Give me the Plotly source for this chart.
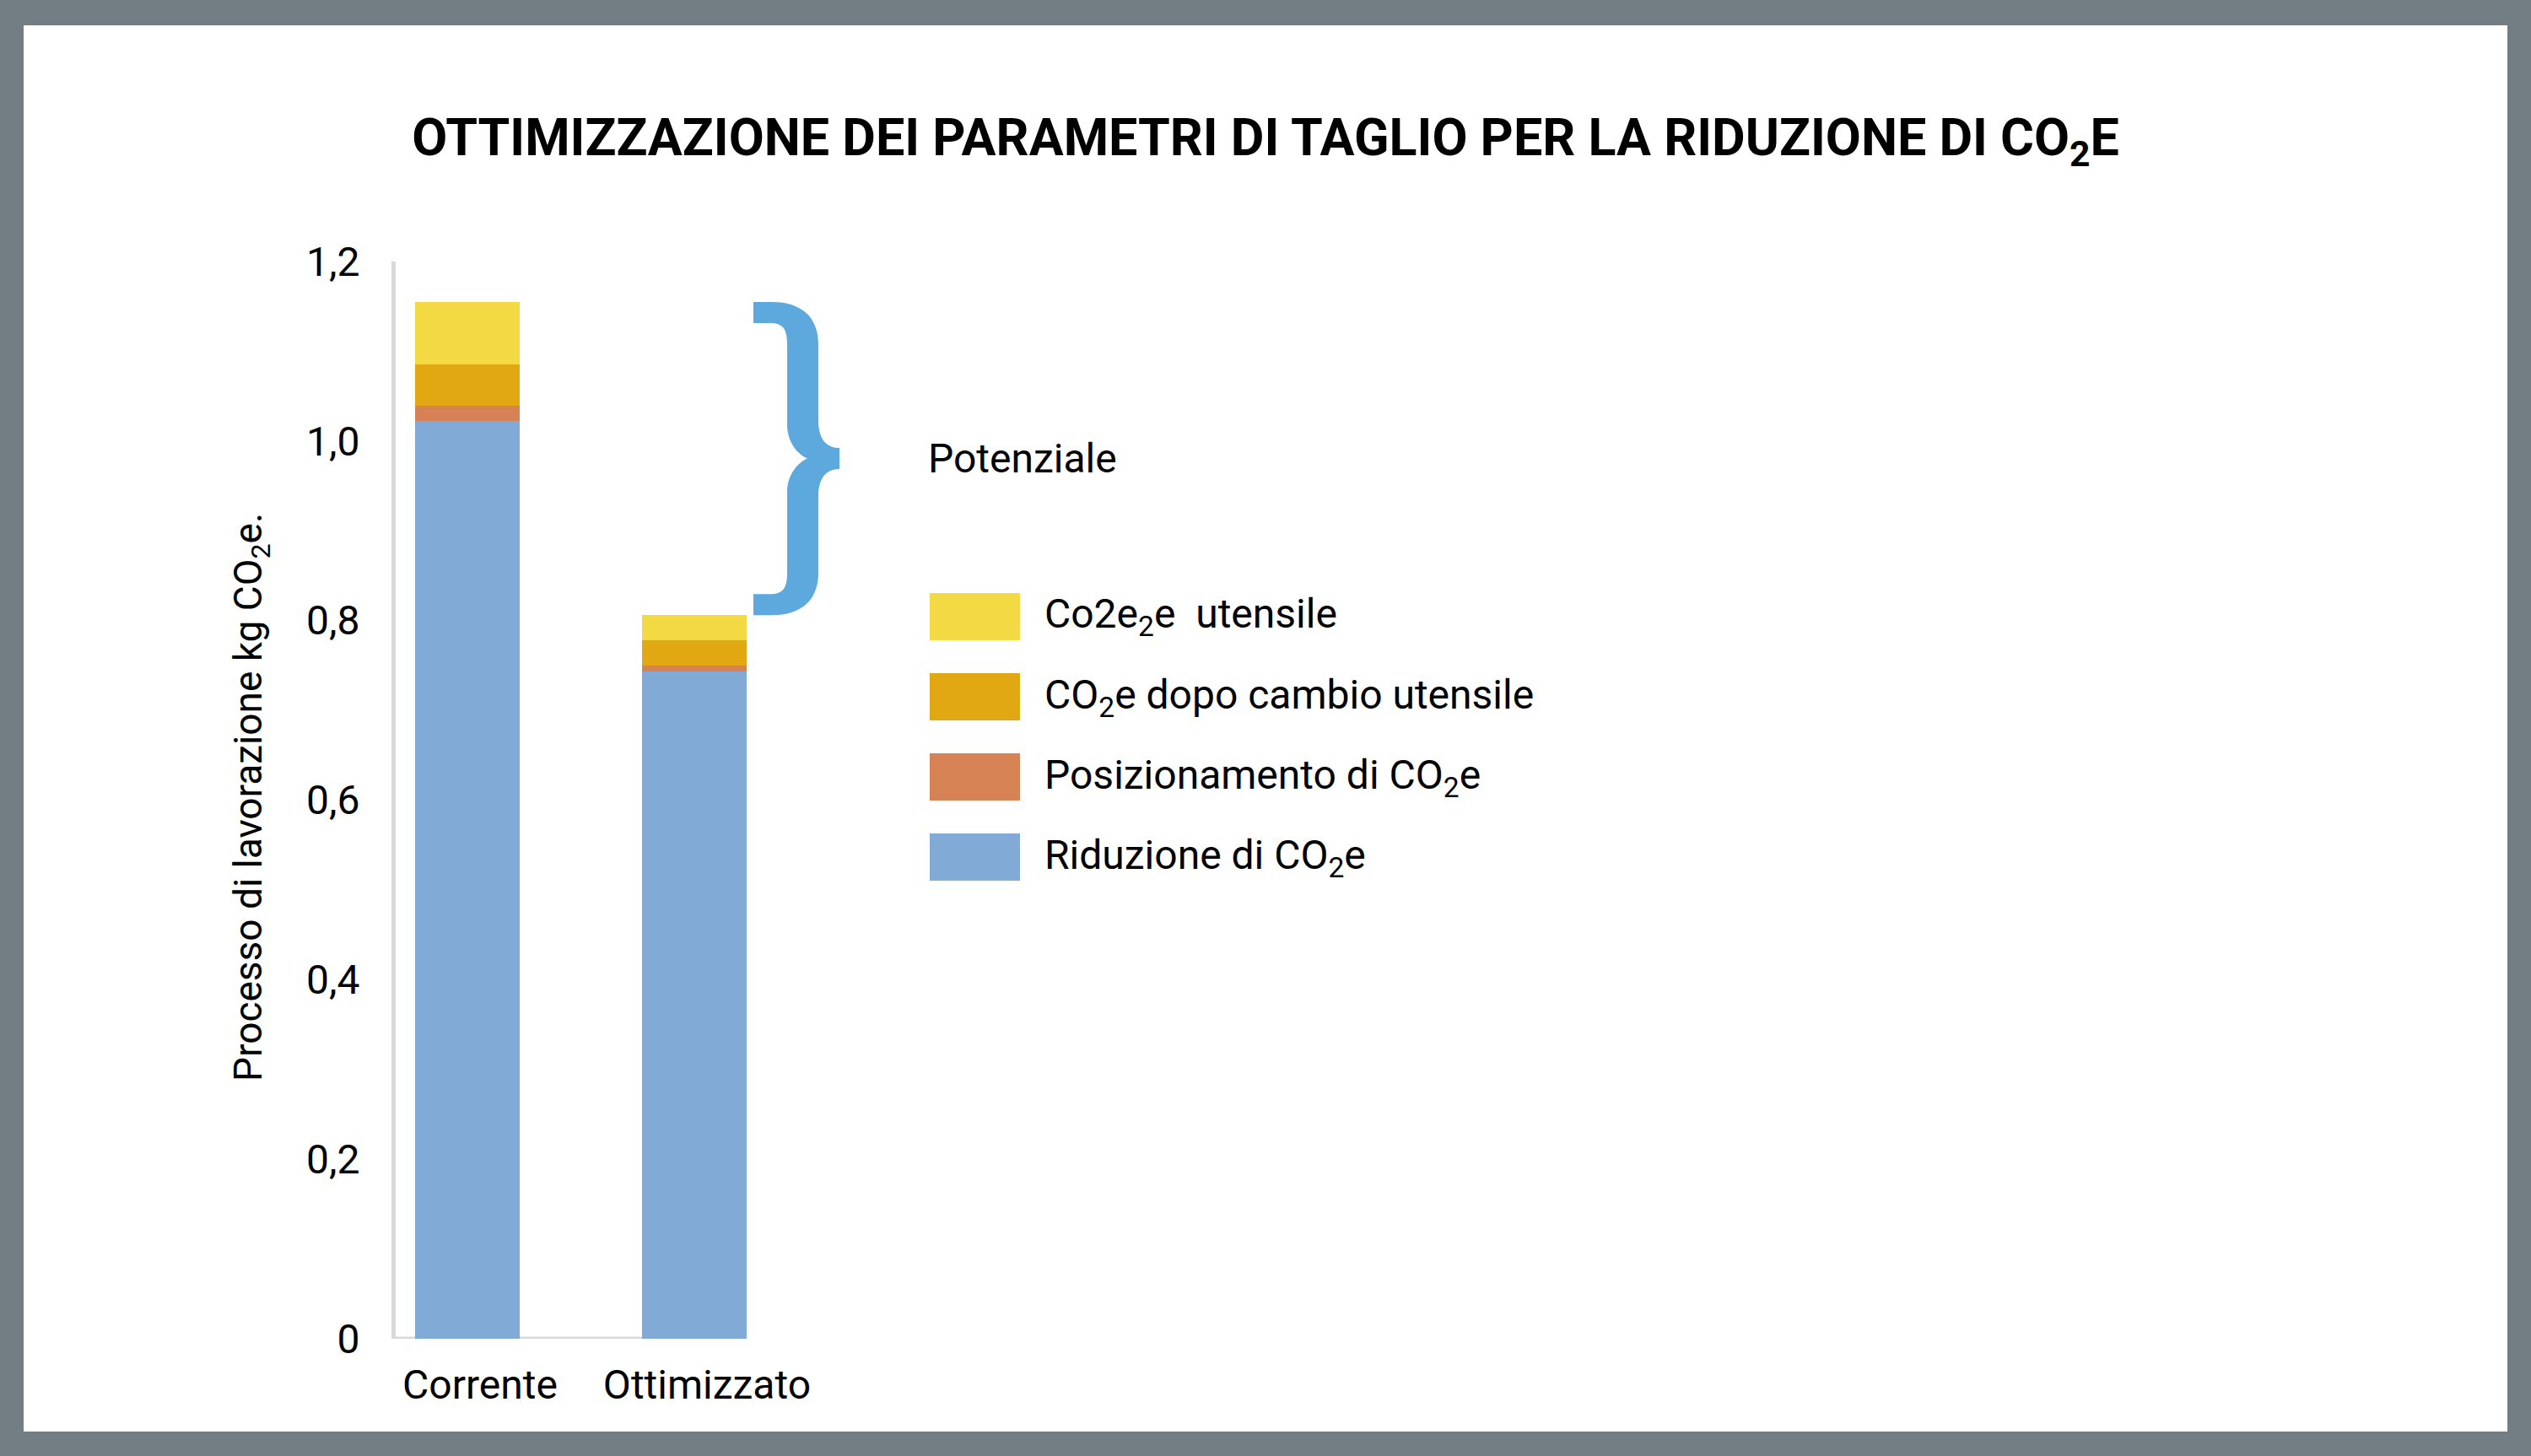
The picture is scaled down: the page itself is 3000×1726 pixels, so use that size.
import plotly.graph_objects as go

# ---------------- data ----------------
categories = ["Corrente", "Ottimizzato"]
riduzione = [1.022, 0.743]          # Riduzione di CO2e (blue)
posizionamento = [0.017, 0.007]     # Posizionamento di CO2e (orange)
dopo_cambio = [0.046, 0.028]        # CO2e dopo cambio utensile (gold)
utensile = [0.070, 0.028]           # Co2e2e utensile (yellow)

series_names = [
    "Riduzione di CO<sub>2</sub>e",
    "Posizionamento di CO<sub>2</sub>e",
    "CO<sub>2</sub>e dopo cambio utensile",
    "Co2e<sub>2</sub>e\u00a0 utensile",
]
series_values = [riduzione, posizionamento, dopo_cambio, utensile]
series_colors = ["#81ABD6", "#D68254", "#E2A814", "#F3D944"]

tick_vals = [0, 0.2, 0.4, 0.6, 0.8, 1.0, 1.2]
tick_text = ["0", "0,2", "0,4", "0,6", "0,8", "1,0", "1,2"]

title_text = "<b>OTTIMIZZAZIONE DEI PARAMETRI DI TAGLIO PER LA RIDUZIONE DI CO<sub>2</sub>E</b>"
y_title = "Processo di lavorazione kg CO<sub>2</sub>e."
brace_label = "Potenziale"

# ---------------- layout helpers ----------------
W, H = 3000, 1726
FONT = "Roboto, Liberation Sans Narrow, sans-serif"
FS = 48
px = lambda x: x / W
py = lambda y: 1 - y / H

Y_MAX = 1.2
plot_top, plot_bot = 310, 1587
ppu = (plot_bot - plot_top) / Y_MAX   # pixels per data unit

fig = go.Figure()
for name, vals, col in zip(series_names, series_values, series_colors):
    fig.add_trace(go.Bar(x=categories, y=vals, name=name,
                         marker=dict(color=col, line=dict(width=0)),
                         showlegend=False))

shapes = []
# white card on grey frame
shapes.append(dict(type="rect", xref="paper", yref="paper", layer="below",
                   x0=px(28), x1=px(2972), y0=py(1697), y1=py(30),
                   fillcolor="white", line=dict(width=0)))
# x axis line (ends under second bar as in reference)
shapes.append(dict(type="line", xref="paper", yref="y", layer="below",
                   x0=px(467), x1=px(815), y0=0, y1=0,
                   line=dict(color="#D9D9D9", width=5)))

# curly brace from total of first bar to total of second bar
totals = [sum(v[i] for v in series_values) for i in range(len(categories))]
T, B = totals[0], totals[1]
M = (T + B) / 2
d = lambda off: off / ppu  # px offset -> data units


def P(xp, yv):
    return f"{px(xp):.6f},{yv:.6f}"


path = " ".join([
    "M", P(893, T),
    "L", P(915, T),
    "C", P(950, T), P(970, T - d(18)), P(970, T - d(50)),
    "L", P(970, M + d(45)),
    "C", P(970, M + d(25)), P(978, M + d(12.5)), P(995, M + d(12.5)),
    "L", P(995, M - d(12.5)),
    "C", P(978, M - d(12.5)), P(970, M - d(25)), P(970, M - d(45)),
    "L", P(970, B + d(50)),
    "C", P(970, B + d(18)), P(950, B), P(915, B),
    "L", P(893, B),
    "L", P(893, B + d(25)),
    "L", P(913, B + d(25)),
    "C", P(928, B + d(25)), P(933, B + d(32)), P(933, B + d(50)),
    "L", P(933, M - d(40)),
    "C", P(933, M - d(20)), P(945, M - d(5)), P(957, M),
    "C", P(945, M + d(5)), P(933, M + d(20)), P(933, M + d(40)),
    "L", P(933, T - d(50)),
    "C", P(933, T - d(32)), P(928, T - d(25)), P(913, T - d(25)),
    "L", P(893, T - d(25)),
    "Z",
])
shapes.append(dict(type="path", xref="paper", yref="y", path=path,
                   fillcolor="#5DA9DD", line=dict(width=0)))

annotations = []
annotations.append(dict(text=brace_label, xref="paper", yref="y", x=px(1098), y=M,
                        xanchor="left", yanchor="middle", showarrow=False,
                        font=dict(family=FONT, size=FS, color="#000000")))

# custom legend (top to bottom: reverse stacking order)
for i, (name, col) in enumerate(zip(series_names[::-1], series_colors[::-1])):
    yc = 731 + i * 95
    shapes.append(dict(type="rect", xref="paper", yref="paper",
                       x0=px(1102), x1=px(1209), y0=py(yc + 28), y1=py(yc - 28),
                       fillcolor=col, line=dict(width=0)))
    annotations.append(dict(text=name, xref="paper", yref="paper", x=px(1236), y=py(yc),
                            xanchor="left", yanchor="middle", showarrow=False,
                            font=dict(family=FONT, size=FS, color="#000000")))

# y-axis title
annotations.append(dict(text=y_title, xref="paper", yref="paper", x=px(297), y=py(945),
                        xanchor="center", yanchor="middle", textangle=-90, showarrow=False,
                        font=dict(family=FONT, size=46, color="#000000")))

fig.update_layout(
    width=W, height=H,
    autosize=False,
    margin=dict(l=0, r=0, t=0, b=0, pad=0, autoexpand=False),
    paper_bgcolor="#727D84",
    plot_bgcolor="rgba(0,0,0,0)",
    barmode="stack",
    bargap=0.539,
    title=dict(text=title_text, x=0.5, xanchor="center", y=py(163), yanchor="middle",
               xref="paper", yref="paper", automargin=False,
               font=dict(family=FONT, size=61, color="#000000")),
    xaxis=dict(domain=[px(469), px(1050)], type="category", range=[-0.316, 1.844],
               showline=False, showgrid=False, zeroline=False, ticks="",
               automargin=False,
               tickfont=dict(family=FONT, size=FS, color="#000000"),
               ticklabelstandoff=22, ticklabelshift=15),
    yaxis=dict(domain=[py(plot_bot), py(plot_top)], range=[0, Y_MAX],
               tickvals=tick_vals, ticktext=tick_text,
               showline=True, linecolor="#D9D9D9", linewidth=5,
               showgrid=False, zeroline=False, ticks="",
               automargin=False,
               tickfont=dict(family=FONT, size=FS, color="#000000"),
               ticklabelstandoff=28),
    shapes=shapes,
    annotations=annotations,
    showlegend=False,
)

fig.write_html("out.html", config={"displayModeBar": False, "responsive": False},
               post_script="document.body.style.margin='0';document.body.style.overflow='hidden';")
